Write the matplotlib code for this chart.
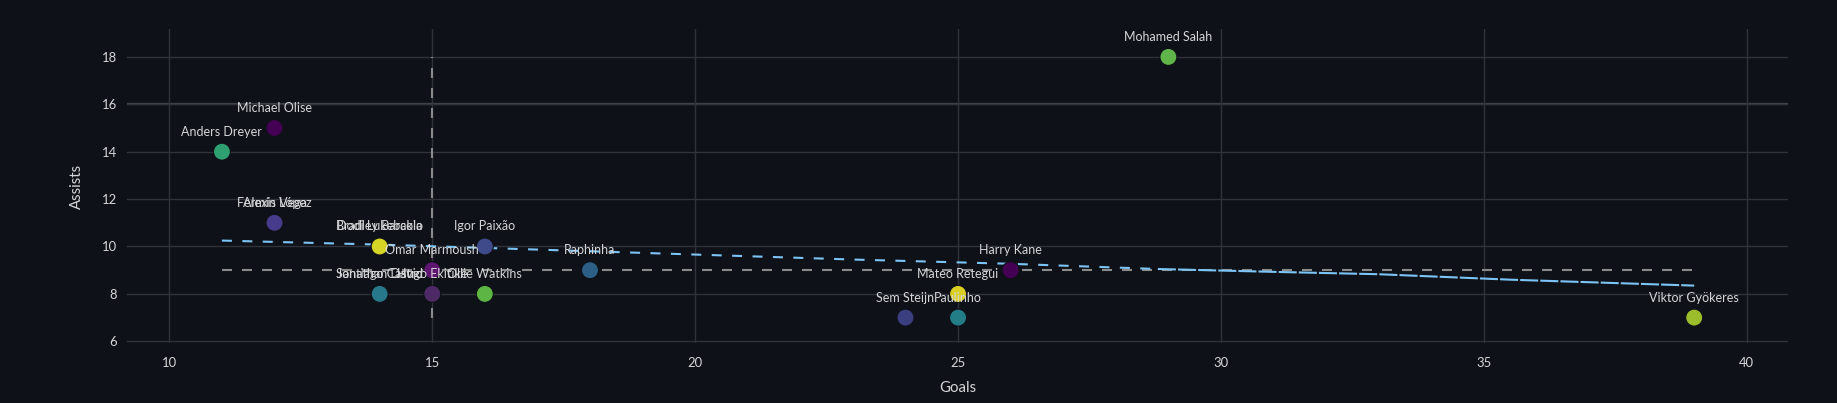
import matplotlib.pyplot as plt

plt.rcParams['font.family'] = ['Lato', 'DejaVu Sans']
plt.rcParams['lines.scale_dashes'] = False

# players, goals, assists
players = ["Mohamed Salah", "Michael Olise", "Anders Dreyer", "Alexis Vega", "Fermín López",
           "Bradley Barcola", "Dodi Lukebakio", "Igor Paixão", "Omar Marmoush", "Raphinha",
           "Santiago Castro", "Jonathan David", "Hugo Ekitike", "Ollie Watkins", "Harry Kane",
           "Mateo Retegui", "Sem Steijn", "Paulinho", "Viktor Gyökeres"]
goals = [29, 12, 11, 12, 12, 14, 14, 16, 15, 18, 14, 14, 15, 16, 26, 25, 24, 25, 39]
assists = [18, 15, 14, 11, 11, 10, 10, 10, 9, 9, 8, 8, 8, 8, 9, 8, 7, 7, 7]
colors = ["#5fb54a", "#440154", "#2e9f70", "#473c8b", "#473c8b",
          "#d6d526", "#d6d526", "#3e4a8a", "#5e1670", "#2b5f86",
          "#28788c", "#28788c", "#4d2a66", "#5db544", "#440154",
          "#d8cf22", "#3b3f80", "#237d87", "#9bbd2c"]

# smoothed trend line
trend_x = [11, 14, 18, 23, 26, 28.8]
trend_y = [10.25, 10.08, 9.8, 9.45, 9.27, 9.05]
trend_x2 = [28.8, 31, 33, 35.5, 39]
trend_y2 = [9.05, 8.93, 8.83, 8.6, 8.35]

median_goals = 15
median_assists = 9

bg = "#0e1117"
grid = "#31333b"
txt = "#d5d6d8"

fig = plt.figure(figsize=(18.37, 4.03), dpi=100, facecolor=bg)
ax = fig.add_axes([0.069, 0.149, 0.9045, 0.778], facecolor=bg)

ax.set_xlim(9.19, 40.79)
ax.set_ylim(5.93, 19.16)
ax.set_xticks([10, 15, 20, 25, 30, 35, 40])
ax.set_yticks([6, 8, 10, 12, 14, 16, 18])
ax.grid(True, color=grid, linewidth=1)
ax.set_axisbelow(True)
for s in ax.spines.values():
    s.set_visible(False)
ax.tick_params(length=0, colors=txt, labelsize=9.4)
ax.tick_params(axis='x', pad=10)
ax.tick_params(axis='y', pad=7)
ax.axhline(16, color="#44464e", linewidth=1.6, zorder=0.5)

ax.set_xlabel("Goals", color=txt, fontsize=10.8, labelpad=9)
ax.set_ylabel("Assists", color=txt, fontsize=10.8, labelpad=13)

# medians
ax.plot([median_goals, median_goals], [min(assists), max(assists)], color="#8a8a8a",
        linewidth=1.5, linestyle=(0, (7.2, 7.2)), zorder=2)
ax.plot([min(goals), max(goals)], [median_assists, median_assists], color="#8a8a8a",
        linewidth=1.5, linestyle=(0, (7.2, 7.2)), zorder=2)

# trend
ax.plot(trend_x, trend_y, color="#7cc4f5", linewidth=1.5, linestyle=(0, (7.2, 7.5)), zorder=2)
ax.plot(trend_x2, trend_y2, color="#7cc4f5", linewidth=1.5, linestyle=(0, (13, 1.5)), zorder=2)

ax.scatter(goals, assists, s=150, c=colors, edgecolors="#0e1117", linewidths=0.8, zorder=3)

for name, g, a in zip(players, goals, assists):
    ax.annotate(name, (g, a), xytext=(0, 14.4), textcoords="offset points",
                ha="center", va="center", color=txt, fontsize=9.0, zorder=4)

fig.savefig("out.png", dpi=100, facecolor=bg)
